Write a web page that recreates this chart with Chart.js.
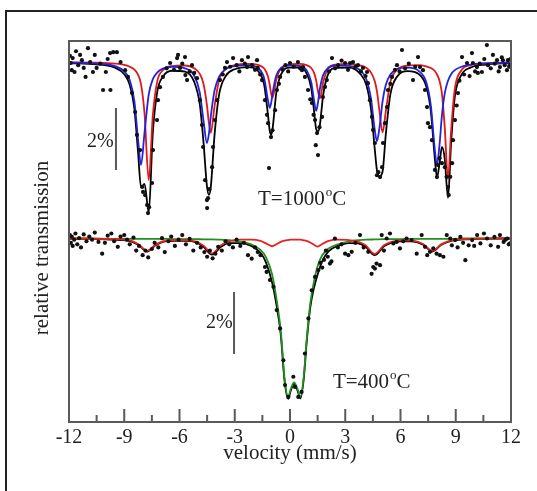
<!DOCTYPE html>
<html lang="en">
  <head>
    <meta charset="utf-8" />
    <title>Mossbauer spectra</title>
    <script src="https://cdn.jsdelivr.net/npm/chart.js"></script>
    <style>
      body { margin: 0; background: #fff; }
      canvas { display: block; }
    </style>
  </head>
  <body>
    <canvas id="myChart" width="537" height="491"></canvas>
    <script>
      // ---- T = 1000 C (top spectrum, baseline 100) ----
      const VEL_TOP = [-12, -10.5, -9.5, -9.0, -8.7, -8.45, -8.25, -8.09, -7.9, -7.67, -7.45, -7.2, -6.9, -6.4, -5.7, -5.2, -4.9, -4.7, -4.51, -4.4, -4.3, -4.1, -3.85, -3.5, -3.0, -2.3, -1.7, -1.4, -1.2, -1.1, -1.02, -0.95, -0.75, -0.5, 0.0, 0.5, 0.9, 1.15, 1.3, 1.42, 1.52, 1.62, 1.8, 2.05, 2.5, 3.2, 3.8, 4.15, 4.4, 4.6, 4.72, 4.85, 5.03, 5.2, 5.45, 5.8, 6.4, 7.0, 7.4, 7.65, 7.85, 7.98, 8.12, 8.25, 8.4, 8.58, 8.75, 8.95, 9.3, 9.8, 10.6, 12];
      const BLUE_1000 = [99.98, 99.95, 99.87, 99.70, 99.41, 98.74, 97.50, 96.68, 97.72, 98.96, 99.44, 99.67, 99.79, 99.85, 99.80, 99.56, 99.02, 98.13, 97.39, 97.70, 98.25, 99.07, 99.53, 99.77, 99.87, 99.90, 99.79, 99.47, 98.78, 98.52, 98.69, 98.98, 99.56, 99.80, 99.89, 99.88, 99.74, 99.36, 98.79, 98.43, 98.70, 99.13, 99.58, 99.80, 99.89, 99.88, 99.74, 99.44, 98.81, 97.82, 97.45, 97.85, 98.75, 99.26, 99.60, 99.77, 99.82, 99.71, 99.35, 98.59, 97.26, 96.68, 97.34, 98.28, 98.98, 99.40, 99.61, 99.74, 99.85, 99.92, 99.96, 99.98];
      const RED_1000 = [99.99, 99.98, 99.95, 99.91, 99.85, 99.76, 99.59, 99.29, 98.35, 96.19, 98.27, 99.40, 99.74, 99.87, 99.89, 99.80, 99.62, 99.31, 98.61, 98.02, 97.72, 98.56, 99.42, 99.77, 99.90, 99.94, 99.90, 99.79, 99.54, 99.26, 98.97, 98.85, 99.42, 99.79, 99.93, 99.94, 99.90, 99.81, 99.66, 99.41, 99.06, 98.83, 99.35, 99.78, 99.92, 99.94, 99.89, 99.81, 99.66, 99.39, 99.06, 98.46, 97.73, 98.40, 99.36, 99.75, 99.89, 99.90, 99.86, 99.81, 99.72, 99.60, 99.39, 98.98, 97.91, 96.22, 97.81, 99.14, 99.73, 99.90, 99.96, 99.99];
      const FIT_1000 = [99.97, 99.93, 99.82, 99.61, 99.26, 98.50, 97.09, 95.97, 96.07, 95.15, 97.71, 99.07, 99.53, 99.72, 99.69, 99.36, 98.64, 97.44, 96.00, 95.72, 95.97, 97.63, 98.95, 99.54, 99.77, 99.84, 99.69, 99.26, 98.32, 97.78, 97.66, 97.83, 98.98, 99.59, 99.82, 99.82, 99.64, 99.17, 98.45, 97.84, 97.76, 97.96, 98.93, 99.58, 99.81, 99.82, 99.63, 99.25, 98.47, 97.21, 96.51, 96.31, 96.48, 97.66, 98.96, 99.52, 99.71, 99.61, 99.21, 98.40, 96.98, 96.28, 96.73, 97.26, 96.89, 95.62, 97.42, 98.88, 99.58, 99.82, 99.92, 99.97];
      const DOTS_1000 = [[-11.95,100.2],[-11.9,99.97],[-11.85,99.74],[-11.8,100.13],[-11.7,99.68],[-11.62,100.35],[-11.5,99.9],[-11.4,100.23],[-11.3,100.06],[-11.2,99.81],[-11.1,99.52],[-10.97,100.45],[-10.85,100.0],[-10.7,99.68],[-10.6,100.23],[-10.5,99.81],[-10.3,99.95],[-10.15,99.1],[-10.0,99.68],[-9.9,100.1],[-9.77,100.29],[-9.75,99.1],[-9.6,100.32],[-9.4,100.32],[-9.2,100.0],[-8.95,99.74],
        [-8.8,99.52],[-8.58,99.0],[-8.41,98.39],[-8.31,97.65],[-8.14,97.16],[-8.03,95.97],[-7.98,95.81],[-7.87,95.71],[-7.76,95.39],[-7.71,95.13],[-7.65,95.32],[-7.49,96.1],[-7.44,97.16],[-7.22,98.13],[-7.17,98.77],[-7.06,99.19],[-6.9,99.52],
        [-6.7,99.8],[-6.51,99.97],[-6.3,99.75],[-6.13,100.13],[-6.08,100.23],[-5.97,99.81],[-5.85,99.95],[-5.7,100.16],[-5.68,99.58],[-5.59,99.42],[-5.45,99.7],[-5.32,99.9],[-5.2,99.65],
        [-5.05,99.48],[-4.89,98.77],[-4.78,97.97],[-4.72,97.26],[-4.61,96.19],[-4.51,95.55],[-4.5,95.29],[-4.45,95.61],[-4.38,95.9],[-4.23,96.61],[-4.18,97.26],[-4.07,98.13],[-3.96,98.77],[-3.8,99.42],[-3.65,99.6],[-3.53,99.81],
        [-3.42,100.0],[-3.25,99.85],[-3.09,100.13],[-2.9,99.9],[-2.75,99.7],[-2.61,100.06],[-2.45,99.95],[-2.33,99.84],[-2.28,100.16],[-2.06,99.9],[-1.9,99.75],[-1.79,100.06],[-1.75,99.81],[-1.62,99.6],
        [-1.52,99.42],[-1.36,98.77],[-1.25,98.3],[-1.19,98.03],[-1.14,96.58],[-1.03,97.58],[-0.95,97.8],[-0.81,98.45],[-0.71,99.1],[-0.6,99.3],[-0.54,99.52],
        [-0.4,99.75],[-0.25,99.9],[-0.1,99.7],[0.0,99.97],[0.2,99.85],[0.43,100.0],[0.55,99.8],[0.65,99.74],[0.71,99.84],
        [0.81,99.52],[0.98,99.1],[1.1,98.8],[1.19,98.68],[1.28,98.3],[1.36,98.13],[1.4,97.32],[1.47,97.71],[1.52,97.0],[1.6,97.9],[1.74,98.23],[1.79,98.87],[1.9,99.2],[2.0,99.42],[2.12,99.7],
        [2.28,100.13],[2.45,99.8],[2.61,99.9],[2.8,100.05],[2.99,99.97],[3.15,99.75],[3.26,99.97],[3.42,100.0],[3.55,99.85],[3.69,99.9],[3.85,99.7],[3.96,99.81],[4.1,99.55],[4.18,99.68],
        [4.23,99.32],[4.34,98.77],[4.45,98.23],[4.51,97.81],[4.61,97.39],[4.72,96.35],[4.8,96.45],[4.89,96.29],[5.0,96.61],[5.05,97.39],[5.16,98.03],[5.27,98.55],[5.32,99.1],[5.45,99.3],[5.54,99.52],
        [5.7,99.75],[5.81,99.9],[5.95,99.7],[6.08,100.39],[6.25,99.8],[6.45,99.95],[6.68,99.42],[6.8,99.85],[6.95,100.16],[7.06,99.84],[7.22,99.74],
        [7.33,99.1],[7.44,98.55],[7.49,98.03],[7.6,97.9],[7.71,97.48],[7.87,96.52],[7.98,96.29],[8.03,96.68],[8.12,96.9],[8.25,96.74],[8.41,96.61],[8.5,96.3],[8.58,95.97],[8.62,95.71],[8.7,96.3],[8.8,96.74],[8.85,97.48],[8.96,98.13],[9.05,98.6],[9.12,99.0],[9.2,99.4],
        [9.34,100.16],[9.45,99.6],[9.61,99.97],[9.75,99.55],[9.88,100.29],[9.93,99.97],[10.05,99.7],[10.15,99.84],[10.2,99.65],[10.3,99.95],[10.42,99.68],[10.55,100.1],[10.69,100.55],[10.75,99.9],[10.9,99.8],[11.02,100.23],[11.12,99.95],[11.24,100.06],[11.33,99.7],[11.4,99.84],[11.5,100.15],[11.56,100.06],[11.66,99.9],[11.78,99.74],[11.83,100.06],[11.9,99.85],[11.94,99.9],[11.97,100.1]];

      // ---- T = 400 C (bottom spectrum, baseline 100, shifted down) ----
      const OFFSET_400 = -5.68;
      const VEL_BOT = [-12, -11, -10, -9.2, -8.6, -8.2, -7.76, -7.3, -6.9, -6.3, -5.6, -5.1, -4.7, -4.23, -3.75, -3.3, -2.7, -2.1, -1.6, -1.3, -0.98, -0.75, -0.5, -0.3, -0.1, 0.05, 0.22, 0.4, 0.56, 0.75, 0.9, 1.1, 1.3, 1.5, 1.75, 2.1, 2.6, 3.2, 3.7, 4.1, 4.6, 5.1, 5.5, 6.0, 6.6, 7.2, 7.74, 8.2, 8.8, 9.5, 10.5, 12];
      const GREEN_400 = [99.99, 99.99, 99.98, 99.98, 99.98, 99.98, 99.98, 99.98, 99.98, 99.97, 99.97, 99.97, 99.96, 99.96, 99.95, 99.94, 99.89, 99.80, 99.62, 99.38, 98.85, 98.10, 97.00, 95.50, 94.88, 95.15, 95.35, 95.15, 94.88, 95.55, 96.70, 97.90, 98.60, 99.10, 99.45, 99.67, 99.80, 99.90, 99.94, 99.95, 99.96, 99.97, 99.97, 99.97, 99.98, 99.98, 99.98, 99.98, 99.98, 99.99, 99.99, 99.99];
      const RED_400 = [99.99, 99.99, 99.98, 99.96, 99.91, 99.79, 99.59, 99.79, 99.90, 99.94, 99.94, 99.89, 99.76, 99.51, 99.77, 99.90, 99.95, 99.95, 99.91, 99.83, 99.74, 99.80, 99.88, 99.92, 99.94, 99.95, 99.95, 99.95, 99.95, 99.93, 99.91, 99.86, 99.79, 99.73, 99.81, 99.91, 99.95, 99.94, 99.89, 99.77, 99.49, 99.77, 99.88, 99.93, 99.92, 99.82, 99.59, 99.80, 99.94, 99.97, 99.99, 100.0];
      const FIT_400 = [99.98, 99.98, 99.96, 99.94, 99.89, 99.77, 99.57, 99.77, 99.88, 99.91, 99.91, 99.86, 99.72, 99.47, 99.72, 99.84, 99.84, 99.75, 99.53, 99.21, 98.59, 97.90, 96.88, 95.42, 94.82, 95.10, 95.30, 95.10, 94.83, 95.48, 96.61, 97.76, 98.39, 98.83, 99.26, 99.58, 99.75, 99.84, 99.83, 99.72, 99.45, 99.74, 99.85, 99.90, 99.90, 99.80, 99.57, 99.78, 99.92, 99.96, 99.98, 99.99];
      const DOTS_400 = [[-11.95,100.1],[-11.9,99.85],[-11.85,100.05],[-11.8,99.75],[-11.72,99.95],[-11.65,100.15],[-11.55,99.8],[-11.45,100.0],[-11.35,99.7],[-11.2,100.12],[-11.05,99.9],[-10.9,100.05],[-10.75,99.95],[-10.6,100.18],[-10.4,99.88],[-10.2,99.5],[-10.05,99.85],[-9.9,100.08],[-9.7,100.15],[-9.55,99.9],[-9.35,99.72],[-9.2,100.05],[-9.0,100.1],[-8.85,99.95],[-8.7,99.8],[-8.5,100.02],[-8.35,99.6],[-8.2,99.75],[-8.0,99.45],[-7.85,99.6],[-7.7,99.38],[-7.5,99.65],[-7.35,99.85],[-7.15,99.7],[-6.95,100.0],[-6.8,99.55],[-6.6,99.9],[-6.45,100.05],[-6.25,99.75],[-6.05,99.95],[-5.85,100.1],[-5.65,99.8],[-5.45,99.98],[-5.25,99.6],[-5.05,99.85],[-4.85,99.7],[-4.65,99.55],[-4.5,99.4],[-4.35,99.6],[-4.2,99.35],[-4.05,99.5],[-3.9,99.72],[-3.7,99.6],[-3.5,99.9],[-3.3,99.8],[-3.1,99.7],[-2.9,99.95],[-2.7,99.75],[-2.5,99.85],
        [-2.28,99.45],[-2.08,99.34],[-1.9,99.7],[-1.75,99.55],[-1.6,99.45],[-1.36,99.07],[-1.27,98.91],[-1.09,98.65],[-0.9,98.43],[-0.72,97.68],[-0.54,97.09],[-0.36,96.06],[-0.27,95.26],[-0.09,94.88],[0.18,95.53],[0.27,95.2],[0.45,94.88],[0.63,95.04],[0.81,96.28],[1.0,97.41],[1.18,98.32],[1.36,98.75],[1.54,98.97],[1.65,99.2],[1.75,99.05],[1.85,99.3],[1.95,99.6],[2.05,99.4],[2.17,99.18],[2.25,99.25],
        [2.44,99.99],[2.6,99.7],[2.8,99.8],[2.99,99.5],[3.17,99.45],[3.35,99.56],[3.55,99.85],[3.8,100.1],[4.0,99.7],[4.25,99.56],[4.43,98.85],[4.52,99.07],[4.61,99.02],[4.7,99.18],[4.89,99.13],[4.98,100.1],[5.1,99.6],[5.25,99.99],[5.43,100.15],[5.61,99.83],[5.79,99.88],[5.97,99.67],[6.15,99.9],[6.33,99.99],[6.6,99.94],[6.88,99.5],[7.15,100.1],[7.33,99.72],[7.45,99.45],[7.6,99.56],[7.78,99.67],[7.96,99.5],[8.14,99.45],[8.33,99.4],[8.51,100.1],[8.7,99.99],[8.79,99.77],[8.97,99.94],[9.1,99.7],[9.25,100.04],[9.4,99.85],[9.52,99.29],[9.7,99.77],[9.89,99.94],[10.0,99.75],[10.16,100.1],[10.34,99.83],[10.53,100.15],[10.7,99.99],[10.9,99.77],[11.1,100.04],[11.3,99.72],[11.4,100.1],[11.6,99.88],[11.7,99.95],[11.8,99.99],[11.88,99.8],[11.95,99.83]];

      const MAJOR_TICKS = [-12, -9, -6, -3, 0, 3, 6, 9, 12];
      const MINOR_TICKS = [-10.5, -7.5, -4.5, -1.5, 1.5, 4.5, 7.5, 10.5];

      const SERIF = "'Liberation Serif', 'Times New Roman', serif";

      function curve(xs, ys, shift) {
        return xs.map((x, i) => ({ x: x, y: ys[i] + shift }));
      }
      function dots(pairs, shift) {
        return pairs.map((p) => ({ x: p[0], y: p[1] + shift }));
      }
      function lineSet(data, color) {
        return {
          type: "line",
          data: data,
          borderColor: color,
          borderWidth: 1.8,
          pointRadius: 0,
          fill: false,
          cubicInterpolationMode: "monotone",
        };
      }
      function dotSet(data) {
        return {
          type: "scatter",
          data: data,
          pointRadius: 2.1,
          pointBorderWidth: 0,
          backgroundColor: "#111",
          borderColor: "#111",
        };
      }

      // frame, ticks, scale bars and labels
      const decorations = {
        id: "decorations",
        afterDraw(chart) {
          const c = chart.ctx;
          const a = chart.chartArea;
          const xs = chart.scales.x;
          const ys = chart.scales.y;
          c.save();
          c.strokeStyle = "#5a5a5a";
          c.lineWidth = 2;
          c.strokeRect(a.left, a.top, a.right - a.left, a.bottom - a.top);
          c.beginPath();
          MAJOR_TICKS.forEach((t) => {
            const px = xs.getPixelForValue(t);
            c.moveTo(px, a.bottom);
            c.lineTo(px, a.bottom - 13);
          });
          MINOR_TICKS.forEach((t) => {
            const px = xs.getPixelForValue(t);
            c.moveTo(px, a.bottom);
            c.lineTo(px, a.bottom - 7);
          });
          // 2% bars
          c.moveTo(xs.getPixelForValue(-9.45), ys.getPixelForValue(98.52));
          c.lineTo(xs.getPixelForValue(-9.45), ys.getPixelForValue(96.52));
          c.moveTo(xs.getPixelForValue(-3.04), ys.getPixelForValue(92.58));
          c.lineTo(xs.getPixelForValue(-3.04), ys.getPixelForValue(90.58));
          c.stroke();

          c.fillStyle = "#222";
          c.textBaseline = "alphabetic";
          c.textAlign = "left";
          c.font = "20px " + SERIF;
          c.fillText("2%", xs.getPixelForValue(-11.02), ys.getPixelForValue(97.26));
          c.fillText("2%", xs.getPixelForValue(-4.56), ys.getPixelForValue(91.42));

          function tempLabel(num, v, y) {
            let x = xs.getPixelForValue(v);
            const py = ys.getPixelForValue(y);
            c.font = "21px " + SERIF;
            c.fillText("T=" + num, x, py);
            x += c.measureText("T=" + num).width + 1;
            c.font = "13px " + SERIF;
            c.fillText("o", x, py - 9);
            x += c.measureText("o").width;
            c.font = "21px " + SERIF;
            c.fillText("C", x, py);
          }
          tempLabel("1000", -1.74, 95.39);
          tempLabel("400", 2.33, 89.48);

          // y title
          c.save();
          c.translate(42, 248);
          c.rotate(-Math.PI / 2);
          c.textAlign = "center";
          c.textBaseline = "middle";
          c.font = "21px " + SERIF;
          c.fillText("relative transmission", 0, 0);
          c.restore();

          // outer figure frame
          c.strokeStyle = "#222";
          c.lineWidth = 2;
          c.beginPath();
          c.moveTo(6, 491);
          c.lineTo(6, 11);
          c.lineTo(537, 11);
          c.stroke();
          c.restore();
        },
      };

      const ctx = document.getElementById("myChart");

      const myChart = new Chart(ctx, {
        type: "scatter",
        data: {
          datasets: [
            dotSet(dots(DOTS_1000, 0)),
            dotSet(dots(DOTS_400, OFFSET_400)),
            lineSet(curve(VEL_TOP, BLUE_1000, 0), "#2222dd"),
            lineSet(curve(VEL_TOP, RED_1000, 0), "#e01818"),
            lineSet(curve(VEL_BOT, RED_400, OFFSET_400), "#e82020"),
            lineSet(curve(VEL_BOT, GREEN_400, OFFSET_400), "#1f8f1f"),
            lineSet(curve(VEL_TOP, FIT_1000, 0), "#000"),
            lineSet(curve(VEL_BOT, FIT_400, OFFSET_400), "#000"),
          ],
        },
        options: {
          responsive: false,
          animation: false,
          layout: { padding: { left: 69, top: 41, right: 26, bottom: 0 } },
          plugins: { legend: { display: false }, tooltip: { enabled: false } },
          scales: {
            x: {
              type: "linear",
              min: -12,
              max: 12,
              grid: { display: false, drawTicks: false },
              border: { display: false },
              ticks: {
                stepSize: 3,
                padding: 4,
                color: "#222",
                maxRotation: 0,
                autoSkip: false,
                font: { family: SERIF, size: 20 },
              },
              title: {
                display: true,
                text: "velocity (mm/s)",
                color: "#222",
                font: { family: SERIF, size: 21 },
                padding: { top: 0, bottom: 25 },
              },
              afterFit: (s) => {
                s.height = 69;
              },
            },
            y: { type: "linear", display: false, min: 88.39, max: 100.68 },
          },
        },
        plugins: [decorations],
      });
    </script>
  </body>
</html>
